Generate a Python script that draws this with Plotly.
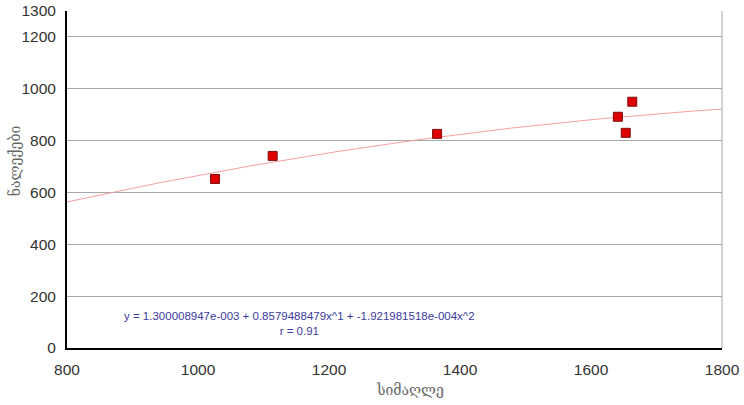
import numpy as np
import plotly.graph_objects as go

# data
heights = [1026, 1114, 1365, 1641, 1653, 1663]
precip = [652, 741, 826, 892, 830, 950]
# fitted polynomial coefficients shown on the chart (c0 + c1 x + c2 x^2)
coef = [1.300008947e-003, 0.8579488479, -1.921981518e-004]
x_ticks = [800, 1000, 1200, 1400, 1600, 1800]
y_ticks = [0, 200, 400, 600, 800, 1000, 1200, 1300]
x_title = "სიმაღლე"
y_title = "ნალექები"
eq_text = "y = 1.300008947e-003 + 0.8579488479x^1 + -1.921981518e-004x^2<br>r = 0.91"

xs = np.linspace(800, 1800, 200)
ys = coef[0] + coef[1] * xs + coef[2] * xs ** 2

fig = go.Figure()
fig.add_trace(go.Scatter(x=xs, y=ys, mode="lines",
                         line=dict(color="#f4a0a0", width=1), hoverinfo="skip"))
fig.add_trace(go.Scatter(x=heights, y=precip, mode="markers",
                         marker=dict(symbol="square", size=9, color="#e00000",
                                     line=dict(color="#7a1010", width=1))))

fig.update_layout(
    width=744, height=405,
    margin=dict(l=67, r=22, t=11, b=57),
    paper_bgcolor="white", plot_bgcolor="white",
    showlegend=False,
    font=dict(family="Liberation Sans, Arial", size=15.5, color="#333333"),
    xaxis=dict(range=[800, 1800], tickvals=x_ticks, showgrid=False,
               showline=True, linecolor="#000000", linewidth=2, ticks="",
               ticklabelstandoff=6, automargin=False,
               zeroline=False),
    yaxis=dict(range=[0, 1300], tickvals=y_ticks, showgrid=True,
               gridcolor="#a8a8a8", gridwidth=1,
               showline=True, linecolor="#000000", linewidth=2, ticks="",
               ticklabelstandoff=6, automargin=False,
               zeroline=False),
    shapes=[dict(type="line", xref="x domain", yref="y domain",
                 x0=1, x1=1, y0=0, y1=1, line=dict(color="#a8a8a8", width=1))],
    annotations=[
        dict(text=eq_text, xref="paper", yref="paper", x=0.355, y=0.073,
             showarrow=False, align="center", yanchor="middle",
             font=dict(family="Liberation Sans, Arial", size=11.5, color="#3a3a9a")),
        dict(text=x_title, xref="paper", yref="paper", x=0.524, y=-0.125,
             showarrow=False, yanchor="middle",
             font=dict(family="DejaVu Serif, DejaVu Sans", size=14, color="#666666")),
        dict(text=y_title, xref="paper", yref="paper", x=-0.079, y=0.555,
             showarrow=False, textangle=-90, xanchor="center", yanchor="middle",
             font=dict(family="DejaVu Serif, DejaVu Sans", size=14, color="#666666")),
    ],
)

fig.write_html("out.html")
